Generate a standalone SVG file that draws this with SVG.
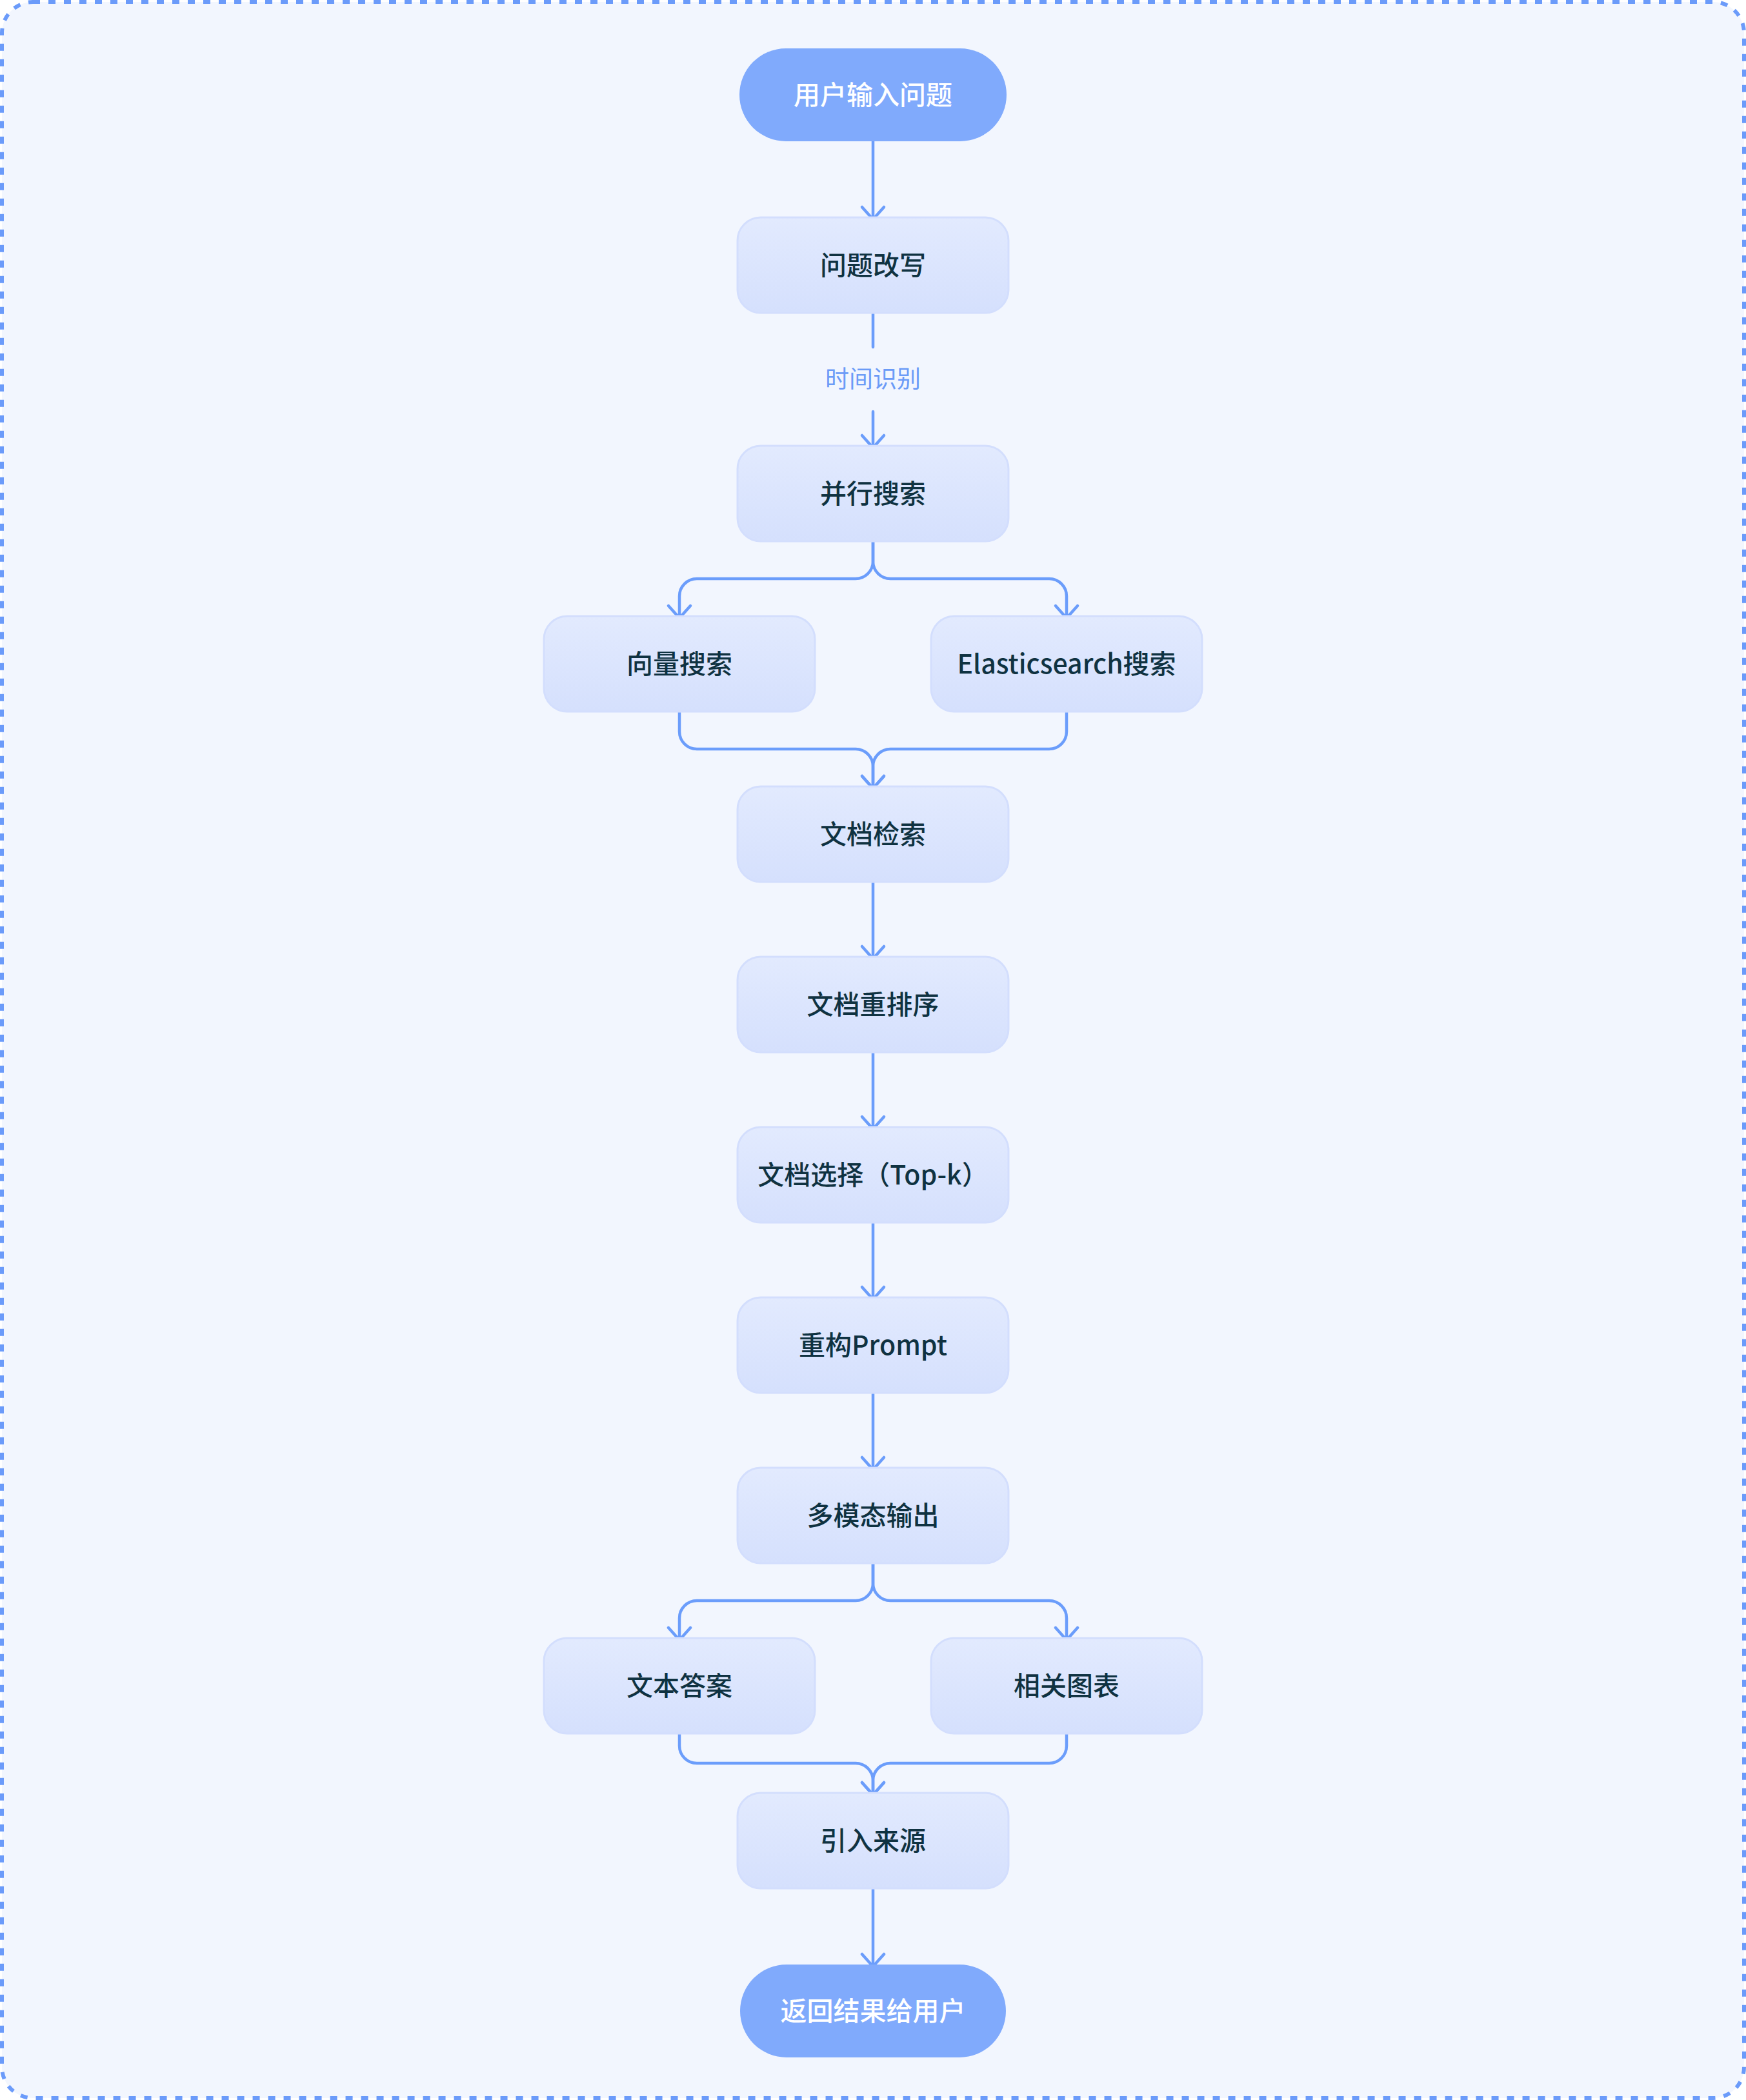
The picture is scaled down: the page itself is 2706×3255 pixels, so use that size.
<svg xmlns="http://www.w3.org/2000/svg" width="2706" height="3255" viewBox="0 0 2706 3255">
<defs>
<linearGradient id="boxGrad" x1="0" y1="0" x2="0" y2="1">
<stop offset="0" stop-color="#E2EAFE"/>
<stop offset="1" stop-color="#D5E0FD"/>
</linearGradient>
<marker id="arrow" markerUnits="userSpaceOnUse" viewBox="-30 -30 40 60" refX="0" refY="0" markerWidth="40" markerHeight="60" orient="auto" overflow="visible">
<path d="M-19,-17 L0,0 L-19,17" fill="none" stroke="#6B9DFB" stroke-width="4.5" stroke-linecap="round" stroke-linejoin="round"/>
</marker>
<style>
.frame{fill:#F2F6FE;stroke:#6B9BFA;stroke-width:6;stroke-dasharray:11 13}
.box{fill:url(#boxGrad);stroke:#D3DEFD;stroke-width:3}
.pill{fill:#80AAFC}
.t{font-family:"Noto Sans CJK SC","Noto Sans",sans-serif;font-size:41px;text-anchor:middle;dominant-baseline:central}
.bt{fill:#0F3241;font-weight:500}
.pt{fill:#FFFFFF;font-weight:500}
.lbl{font-family:"Noto Sans CJK SC","Noto Sans",sans-serif;font-size:37px;fill:#6B9BF7;text-anchor:middle;dominant-baseline:central}
.c{fill:none;stroke:#6B9DFB;stroke-width:4.5;stroke-linecap:round;stroke-linejoin:round}
.ca{marker-end:url(#arrow)}
</style>
</defs>
<rect x="0" y="0" width="2706" height="3255" fill="#FFFFFF"/>
<rect class="frame" x="3" y="3" width="2700" height="3249" rx="48" ry="48"/>

<g id="connectors">
<path class="c ca" d="M1353 219 V340"/>
<path class="c" d="M1353 485 V538"/>
<path class="c ca" d="M1353 638 V694"/>
<path class="c ca" d="M1353 839 V870 A27 27 0 0 1 1326 897 H1080 A27 27 0 0 0 1053 924 V958"/>
<path class="c ca" d="M1353 839 V870 A27 27 0 0 0 1380 897 H1626 A27 27 0 0 1 1653 924 V958"/>
<path class="c ca" d="M1053 1103 V1134 A27 27 0 0 0 1080 1161 H1326 A27 27 0 0 1 1353 1188 V1222"/>
<path class="c ca" d="M1653 1103 V1134 A27 27 0 0 1 1626 1161 H1380 A27 27 0 0 0 1353 1188 V1222"/>
<path class="c ca" d="M1353 1367 V1486"/>
<path class="c ca" d="M1353 1631 V1750"/>
<path class="c ca" d="M1353 1895 V2014"/>
<path class="c ca" d="M1353 2159 V2278"/>
<path class="c ca" d="M1353 2423 V2454 A27 27 0 0 1 1326 2481 H1080 A27 27 0 0 0 1053 2508 V2542"/>
<path class="c ca" d="M1353 2423 V2454 A27 27 0 0 0 1380 2481 H1626 A27 27 0 0 1 1653 2508 V2542"/>
<path class="c ca" d="M1053 2687 V2706 A27 27 0 0 0 1080 2733 H1326 A27 27 0 0 1 1353 2760 V2782"/>
<path class="c ca" d="M1653 2687 V2706 A27 27 0 0 1 1626 2733 H1380 A27 27 0 0 0 1353 2760 V2782"/>
<path class="c ca" d="M1353 2927 V3048"/>
<text class="lbl" x="1353" y="585">时间识别</text>
</g>

<g id="n-start">
<rect class="pill" x="1146" y="75" width="414" height="144" rx="72" ry="72"/>
<text class="t pt" x="1353" y="144">用户输入问题</text>
</g>
<g id="n-rewrite">
<rect class="box" x="1143" y="337" width="420" height="148" rx="36" ry="36"/>
<text class="t bt" x="1353" y="408">问题改写</text>
</g>
<g id="n-parallel">
<rect class="box" x="1143" y="691" width="420" height="148" rx="36" ry="36"/>
<text class="t bt" x="1353" y="762">并行搜索</text>
</g>
<g id="n-vector">
<rect class="box" x="843" y="955" width="420" height="148" rx="36" ry="36"/>
<text class="t bt" x="1053" y="1026">向量搜索</text>
</g>
<g id="n-es">
<rect class="box" x="1443" y="955" width="420" height="148" rx="36" ry="36"/>
<text class="t bt" x="1653" y="1026">Elasticsearch搜索</text>
</g>
<g id="n-retrieve">
<rect class="box" x="1143" y="1219" width="420" height="148" rx="36" ry="36"/>
<text class="t bt" x="1353" y="1290">文档检索</text>
</g>
<g id="n-rerank">
<rect class="box" x="1143" y="1483" width="420" height="148" rx="36" ry="36"/>
<text class="t bt" x="1353" y="1554">文档重排序</text>
</g>
<g id="n-topk">
<rect class="box" x="1143" y="1747" width="420" height="148" rx="36" ry="36"/>
<text class="t bt" x="1353" y="1818">文档选择（Top-k）</text>
</g>
<g id="n-prompt">
<rect class="box" x="1143" y="2011" width="420" height="148" rx="36" ry="36"/>
<text class="t bt" x="1353" y="2082">重构Prompt</text>
</g>
<g id="n-multimodal">
<rect class="box" x="1143" y="2275" width="420" height="148" rx="36" ry="36"/>
<text class="t bt" x="1353" y="2346">多模态输出</text>
</g>
<g id="n-text">
<rect class="box" x="843" y="2539" width="420" height="148" rx="36" ry="36"/>
<text class="t bt" x="1053" y="2610">文本答案</text>
</g>
<g id="n-chart">
<rect class="box" x="1443" y="2539" width="420" height="148" rx="36" ry="36"/>
<text class="t bt" x="1653" y="2610">相关图表</text>
</g>
<g id="n-source">
<rect class="box" x="1143" y="2779" width="420" height="148" rx="36" ry="36"/>
<text class="t bt" x="1353" y="2850">引入来源</text>
</g>
<g id="n-end">
<rect class="pill" x="1147" y="3045" width="412" height="144" rx="72" ry="72"/>
<text class="t pt" x="1353" y="3114">返回结果给用户</text>
</g>
</svg>
